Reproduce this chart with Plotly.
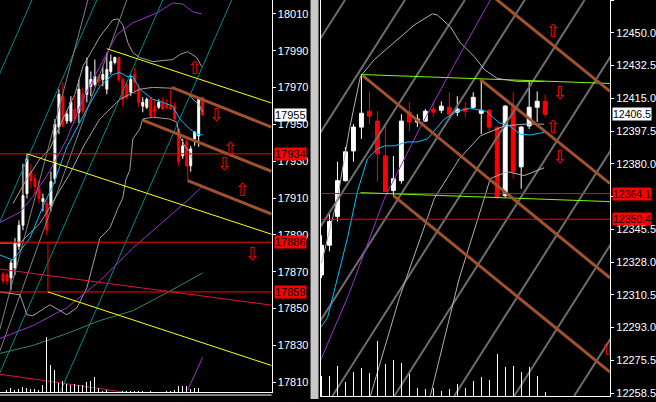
import plotly.graph_objects as go

# ---------------- LEFT PANEL DATA (bar index, price) ----------------
L_open  = [17868.8,17868.2,17866.6,17872.0,17883.8,17895.2,17912.4,17924.3,17920.5,17915.1,
           17908.1,17907.0,17905.9,17920.5,17948.5,17965.3,17951.8,17951.8,17958.3,17956.6,
           17966.3,17966.3,17970.7,17971.7,17976.0,17974.4,17969.1,17978.7,17983.6,17986.3,
           17974.4,17971.7,17967.4,17977.1,17969.1,17959.9,17959.3,17963.6,17959.9,17959.3,
           17962.0,17960.9,17959.9,17959.9,17947.5,17932.9,17940.5,17927.5,17942.1,17943.7,17964.7]
L_high  = [17869.8,17869.3,17876.3,17888.2,17897.9,17928.6,17934.0,17928.6,17923.2,17919.4,
           17912.4,17909.7,17924.3,17952.9,17969.1,17972.8,17957.2,17965.3,17965.3,17974.4,
           17970.1,17986.3,17978.7,17985.2,17977.1,17981.4,17989.0,17987.9,17986.8,17986.8,
           17975.5,17972.8,17977.1,17980.9,17971.7,17964.7,17964.7,17964.7,17963.6,17963.6,
           17964.7,17963.6,17969.1,17962.0,17947.5,17942.1,17943.2,17938.3,17946.4,17963.6,17964.7]
L_low   = [17863.4,17862.8,17860.1,17868.2,17881.7,17892.5,17909.7,17915.1,17912.4,17907.0,
           17902.7,17889.8,17902.7,17917.8,17944.8,17948.5,17950.1,17950.7,17950.7,17950.7,
           17955.6,17962.0,17965.3,17970.7,17970.7,17970.7,17966.3,17977.1,17982.5,17972.8,
           17959.9,17963.6,17965.3,17966.3,17959.3,17956.6,17958.3,17953.9,17953.9,17958.3,
           17958.3,17958.3,17958.3,17951.8,17927.5,17931.3,17927.0,17924.3,17938.3,17937.8,17955.0]
L_close = [17865.0,17865.0,17874.7,17885.5,17895.2,17911.3,17931.3,17919.4,17916.2,17909.7,
           17909.7,17892.5,17918.9,17950.1,17966.3,17949.1,17955.6,17962.0,17952.9,17969.1,
           17957.2,17981.4,17974.4,17976.0,17973.4,17977.1,17979.8,17984.1,17986.3,17974.4,
           17963.6,17964.7,17974.4,17972.8,17962.0,17962.0,17963.6,17954.5,17956.6,17962.0,
           17958.3,17959.3,17958.3,17952.9,17929.7,17938.3,17927.5,17936.7,17945.8,17963.6,17955.0]
L_volume = [3,2,4,2,3,5,4,3,3,2,7,55,27,22,9,11,8,7,8,7,7,10,11,15,4,1.5,1.7,0,0,0,
            1.3,0.7,0.7,0.7,0.7,0.7,0,0.7,0,0,0,0.7,1.3,2.3,6,6,6.3,3.3,4,4,0]

L_ma_fast_x = [-0.75,2.5,6.75,10,12.5,16,21,24.25,27.5,29.25,31,32.5,34.25,37.5,40,42.5,44.25,46.75,48.5,50]
L_ma_fast_y = [17879.0,17876.3,17888.2,17905.4,17916.7,17937.8,17958.3,17970.7,17977.1,17978.2,
               17976.0,17976.0,17969.1,17963.6,17962.0,17959.9,17952.9,17947.5,17944.8,17944.2]
L_ma_up_x = [-0.75,4.25,7.5,11.75,16,20,24.25,28.5,32.5,38.5,42.5,45,47.5,49.75]
L_ma_up_y = [17896.8,17902.2,17910.8,17924.8,17942.1,17963.6,17981.4,17998.7,18005.2,18010.5,
             18015.9,18015.4,18011.1,18010.0]
L_ma_slow_x = [-0.75,7.5,16,24.25,32.5,41,46.75,50]
L_ma_slow_y = [17833.7,17840.7,17850.4,17865.0,17882.8,17898.9,17909.7,17916.7]
L_ma_long_x = [-0.75,7.5,16,24.25,32.5,41,50]
L_ma_long_y = [17825.6,17829.9,17836.4,17843.4,17848.8,17858.5,17869.3]
L_vol_ma_x = [46.25,48.25,50]
L_vol_ma_y = [17805.7,17815.4,17823.5]
L_bb_up_x = [2.5,6,9.25,11.75,15,18,20,24.25,27.5,28.75,30,31.25,32.5,34.25,37.5,42.5,44.25,46.25,48.5,49.75]
L_bb_up_y = [17907.0,17920.5,17931.3,17936.7,17952.9,17966.3,17981.4,17997.6,18006.8,18007.3,
             18004.1,17994.4,17989.0,17986.3,17984.1,17985.2,17987.9,17989.5,17986.3,17981.4]
L_bb_mid_x = [-0.75,4.25,9.25,13,16.75,20.5,24.25,29.25,34.25,37.5,42.5,46,49.25,50]
L_bb_mid_y = [17885.5,17885.5,17896.2,17909.7,17923.2,17939.4,17952.9,17963.6,17969.1,17970.1,
              17969.6,17967.4,17959.9,17956.6]
L_bb_lo_x = [-0.75,4.25,6,7.5,11.75,16,18.5,21,24.25,26.75,28.75,30,30.75,31.75,32.5,34.25,
             35,37.5,41.75,43.5,44.25,45.5,46.75,47.25]
L_bb_lo_y = [17859.0,17857.4,17846.6,17846.1,17852.0,17846.6,17850.4,17861.2,17888.2,17893.6,
             17904.3,17910.0,17920.0,17925.0,17942.1,17947.5,17952.9,17953.9,17952.9,17951.2,
             17943.7,17938.3,17935.1,17931.3]

L_hlines = [17934, 17886, 17859]
L_yellow = [[6, 17934.0, 67.25, 17890.3], [26, 17991.1, 67.25, 17961.6], [11.25, 17859.0, 67.25, 17819.0]]
L_brown  = [[42.25, 17970.1, 67.25, 17948.5], [35, 17952.3, 67.25, 17924.5], [46.25, 17919.4, 67.25, 17901.3]]
L_crimson = [[-0.75, 17871.4, 67.25, 17851.8], [-0.75, 17814.3, 67.25, 17793.0]]
L_teal = [[-35.7, 17804.6, 7.25, 18017.55], [-19.4, 17804.6, 23.5, 18017.55],
          [-2.9, 17804.6, 40, 18017.55], [14.3, 17804.6, 57.25, 18017.55]]
L_gray = [[-5, 17804.6, 21.25, 18017.55], [-4.5, 17804.6, 31, 18017.55]]
L_vsegs = [[11.25, 17886, 17859], [46.25, 17929.7, 17919.4]]
L_arrows_x = [48, 53.5, 57, 55.5, 60, 62.5]
L_arrows_y = [17979.8, 17954.5, 17935.6, 17927.5, 17913.5, 17879.0]
L_arrows_t = ["⇧", "⇩", "⇧", "⇩", "⇧", "⇩"]
L_ticks = [17810, 17830, 17850, 17870, 17890, 17910, 17930, 17950, 17970, 17990, 18010]
L_labels = [(17955, "17955", "white"), (17934, "17934", "red"), (17886, "17886", "red"), (17859, "17859", "red")]

# ---------------- RIGHT PANEL DATA ----------------
R_open  = [12320.6,12336.5,12351.9,12371.0,12386.9,12399.6,12408.1,12402.8,12384.2,12365.7,
           12371.0,12407.6,12402.3,12402.8,12409.2,12408.6,12410.2,12407.6,12409.7,12410.2,
           12407.0,12408.6,12399.6,12363.0,12410.2,12378.4,12400.2,12410.2,12413.4]
R_high  = [12341.8,12353.5,12381.1,12389.0,12401.2,12427.7,12418.7,12408.1,12400.2,12384.2,
           12406.5,12412.9,12406.5,12409.2,12413.4,12413.4,12418.2,12416.1,12412.9,12418.2,
           12425.1,12409.2,12399.6,12411.3,12418.2,12400.2,12424.0,12418.7,12417.1]
R_low   = [12319.0,12333.3,12349.2,12370.5,12381.1,12393.3,12401.2,12370.5,12365.2,12363.0,
           12369.4,12397.5,12399.6,12402.3,12404.9,12407.0,12405.5,12405.5,12404.9,12409.2,
           12395.9,12397.5,12361.4,12362.0,12372.0,12366.7,12398.6,12402.3,12404.9]
R_close = [12336.5,12349.2,12371.0,12386.4,12399.6,12407.0,12405.5,12385.3,12365.2,12372.0,
           12402.8,12402.3,12403.9,12408.1,12407.6,12410.8,12406.5,12409.2,12408.1,12415.5,
           12408.6,12399.6,12362.5,12410.8,12375.8,12399.6,12410.2,12413.4,12406.5]
R_volume = [20,20,30,14,24,28,23,55,32,36,33,22,8,7,8,5,7,12,8,15,19,16,42,29,30,24,29,20,4]

R_cyan_x = [-0.125,0.75,3.25,4.5,5.75,7,7.875,9.125,10.75,12,13.25,14.125,15.375,17,18.625,
            20.625,21.75,22.25,23.25,24.125,24.875,26.125,28.125]
R_cyan_y = [12292.5,12297.8,12340.3,12365.2,12382.7,12388.0,12389.6,12389.6,12391.7,12391.7,
            12393.3,12397.5,12403.9,12408.1,12409.7,12408.1,12403.9,12401.8,12401.2,12398.6,
            12395.9,12395.4,12397.0]
R_purple_x = [-0.125,3.5,7.875,12.25,16.625,21.125,22.5]
R_purple_y = [12275.0,12311.1,12361.5,12398.6,12433.0,12467.5,12478.0]
R_bb_up_x = [0,2,3.5,4.875,6.625,9.125,11.625,13.875,14.5,16.125,17.375,19.125,20.375,22,24.5,27.875]
R_bb_up_y = [12327.0,12361.5,12398.6,12426.7,12435.7,12444.7,12454.2,12460.1,12459.5,12453.2,
             12444.7,12437.3,12430.4,12425.6,12424.0,12424.0]
R_bb_mid_x = [6.125,9.75,14.125,17.25,19.875,22.875,25.375,27.875]
R_bb_mid_y = [12256.0,12308.4,12361.5,12382.7,12394.9,12400.2,12401.2,12401.2]
R_bb_lo_x = [13.625,17.25,20.375,21.125,23.25,25.375,27.875]
R_bb_lo_y = [12256.0,12319.0,12361.5,12372.1,12375.8,12373.7,12377.9]

R_hlines = [12364.1, 12350.4]
R_green = [[5, 12427.7, 36.125, 12422.9], [4.875, 12364.6, 36.125, 12359.8]]
R_brown = [[20, 12474.4, 36.125, 12418.7], [5.125, 12427.2, 36.125, 12319.0],
           [19.875, 12425.1, 36.125, 12369.4], [9, 12363.0, 36.125, 12268.7]]
R_gann_start = [-28.625, -21.125, -13.625, -6.125, 1.375, 9.125, 16.625, 24.125, 31.625]
R_gann_end   = [2.94, 10.44, 17.94, 25.44, 32.94, 40.69, 48.19, 55.69, 63.19]
R_gann_lo, R_gann_hi = 12256.0, 12467.5
R_arrows_x = [29, 29.875, 29, 29.875, 35.875]
R_arrows_y = [12450.0, 12417.1, 12398.6, 12382.7, 12280.3]
R_arrows_t = ["⇧", "⇩", "⇧", "⇩", "⇧"]
R_ticks = [12257.5, 12275, 12292.5, 12310, 12327.5, 12345, 12362.5, 12380, 12397.5, 12415, 12432.5, 12450, 12467.5]
R_ticktext = ["12258.5", "12275.5", "12293.0", "12310.5", "12328.0", "12345.5", "",
              "12380.0", "12397.5", "12415.0", "12432.5", "12450.0", "12467.5"]
R_labels = [(12406.5, "12406.5", "white"), (12364.1, "12364.1", "red"), (12350.4, "12350.4", "red")]

W, H = 656, 402
fig = go.Figure()

def seg_lines(segs, xa, ya, color, width):
    xs, ys = [], []
    for x0, y0, x1, y1 in segs:
        xs += [x0, x1, None]
        ys += [y0, y1, None]
    fig.add_trace(go.Scatter(x=xs, y=ys, mode="lines", xaxis=xa, yaxis=ya,
                             line=dict(color=color, width=width), hoverinfo="skip"))

def curve(xv, yv, xa, ya, color, width=1):
    fig.add_trace(go.Scatter(x=xv, y=yv, mode="lines", xaxis=xa, yaxis=ya,
                             line=dict(color=color, width=width), hoverinfo="skip"))

# ---- left panel ----
Lx = list(range(len(L_open)))
fig.add_trace(go.Bar(x=Lx, y=L_volume, xaxis="x", yaxis="y3", width=0.25,
                     marker=dict(color="white", line=dict(width=0)), hoverinfo="skip"))
seg_lines(L_teal, "x", "y", "#008b8b", 1)
seg_lines(L_gray, "x", "y", "#808080", 1)
fig.add_trace(go.Candlestick(x=Lx, open=L_open, high=L_high, low=L_low, close=L_close,
                             xaxis="x", yaxis="y", whiskerwidth=0, hoverinfo="skip",
                             increasing=dict(line=dict(color="white", width=1), fillcolor="white"),
                             decreasing=dict(line=dict(color="red", width=1), fillcolor="red")))
curve(L_bb_up_x, L_bb_up_y, "x", "y", "#a0a0a0")
curve(L_bb_mid_x, L_bb_mid_y, "x", "y", "#a0a0a0")
curve(L_bb_lo_x, L_bb_lo_y, "x", "y", "#a0a0a0")
curve(L_ma_long_x, L_ma_long_y, "x", "y", "#2e8b57")
curve(L_ma_slow_x, L_ma_slow_y, "x", "y", "#9932cc")
curve(L_ma_up_x, L_ma_up_y, "x", "y", "#9932cc")
curve(L_vol_ma_x, L_vol_ma_y, "x", "y", "#9932cc")
curve(L_ma_fast_x, L_ma_fast_y, "x", "y", "#00bfff")
seg_lines(L_crimson, "x", "y", "#dc143c", 1)
seg_lines([[-0.75, v, 67.25, v] for v in L_hlines], "x", "y", "red", 1)
seg_lines([[s[0], s[1], s[0], s[2]] for s in L_vsegs], "x", "y", "red", 1)
seg_lines(L_yellow, "x", "y", "yellow", 1)
seg_lines(L_brown, "x", "y", "#a0522d", 3)
fig.add_trace(go.Scatter(x=L_arrows_x, y=L_arrows_y, text=L_arrows_t, mode="text", xaxis="x", yaxis="y",
                         textfont=dict(color="red", size=18, family="DejaVu Sans"), cliponaxis=True,
                         hoverinfo="skip"))

# ---- right panel ----
Rx = list(range(len(R_open)))
fig.add_trace(go.Bar(x=Rx, y=R_volume, xaxis="x2", yaxis="y4", width=0.125,
                     marker=dict(color="white", line=dict(width=0)), hoverinfo="skip"))
fig.add_trace(go.Candlestick(x=Rx, open=R_open, high=R_high, low=R_low, close=R_close,
                             xaxis="x2", yaxis="y2", whiskerwidth=0, hoverinfo="skip",
                             increasing=dict(line=dict(color="white", width=1), fillcolor="white"),
                             decreasing=dict(line=dict(color="red", width=1), fillcolor="red")))
seg_lines([[a, R_gann_lo, b, R_gann_hi] for a, b in zip(R_gann_start, R_gann_end)], "x2", "y2", "#6e6e6e", 2)
curve(R_bb_up_x, R_bb_up_y, "x2", "y2", "#b0b0b0")
curve(R_bb_mid_x, R_bb_mid_y, "x2", "y2", "#b0b0b0")
curve(R_bb_lo_x, R_bb_lo_y, "x2", "y2", "#b0b0b0")
curve(R_purple_x, R_purple_y, "x2", "y2", "#9932cc")
curve(R_cyan_x, R_cyan_y, "x2", "y2", "#00bfff")
seg_lines([[-0.125, v, 36.125, v] for v in R_hlines], "x2", "y2", "red", 1)
seg_lines(R_green, "x2", "y2", "#7cfc00", 1)
seg_lines(R_brown, "x2", "y2", "#a0522d", 3)
fig.add_trace(go.Scatter(x=R_arrows_x, y=R_arrows_y, text=R_arrows_t, mode="text", xaxis="x2", yaxis="y2",
                         textfont=dict(color="red", size=18, family="DejaVu Sans"), cliponaxis=True,
                         hoverinfo="skip"))

axis_common = dict(showgrid=False, zeroline=False, color="white", linecolor="white", linewidth=1)
fig.update_layout(
    width=W, height=H, margin=dict(l=0, r=0, t=0, b=0),
    paper_bgcolor="black", plot_bgcolor="black", showlegend=False,
    font=dict(family="Liberation Sans", size=11, color="white"),
    xaxis=dict(domain=[0, 272 / W], range=[-0.75, 67.25], showline=True, showticklabels=False,
               ticks="", rangeslider=dict(visible=False), anchor="y", **axis_common),
    yaxis=dict(domain=[7 / H, 1], range=[17804.6, 18017.55], side="right", anchor="x",
               showline=True, ticks="outside", ticklen=3, tickcolor="white",
               tickvals=L_ticks, ticktext=[str(v) for v in L_ticks], **axis_common),
    yaxis3=dict(domain=[7 / H, 1], range=[0, 395], overlaying="y", visible=False),
    xaxis2=dict(domain=[321 / W, 611 / W], range=[-0.125, 36.125], showline=True, showticklabels=False,
                ticks="", rangeslider=dict(visible=False), anchor="y2", **axis_common),
    yaxis2=dict(domain=[3 / H, 1], range=[12255.95, 12467.5], side="right", anchor="x2",
                showline=True, mirror=True, ticks="outside", ticklen=3, tickcolor="white",
                tickvals=R_ticks, ticktext=R_ticktext, **axis_common),
    yaxis4=dict(domain=[3 / H, 1], range=[0, 399], overlaying="y2", visible=False),
    bargap=0,
)

# window separator
fig.add_shape(type="rect", xref="paper", yref="paper", x0=311 / W, x1=319 / W, y0=0, y1=1,
              fillcolor="#c8c8c8", line=dict(width=0), layer="above")
fig.add_shape(type="line", xref="paper", yref="paper", x0=0, x1=272 / W, y0=4 / H, y1=4 / H,
              line=dict(color="white", width=1))

for v, t, c in L_labels:
    fig.add_annotation(x=274 / W, xref="paper", y=v, yref="y", text=t, showarrow=False,
                       xanchor="left", yanchor="middle", bgcolor=c, borderpad=0,
                       font=dict(color="black", size=11, family="Liberation Sans"))
for v, t, c in R_labels:
    fig.add_annotation(x=613 / W, xref="paper", y=v, yref="y2", text=t, showarrow=False,
                       xanchor="left", yanchor="middle", bgcolor=c, borderpad=0,
                       font=dict(color="black", size=10.5, family="Liberation Sans"))

fig.write_html("out.html", config={"displayModeBar": False, "staticPlot": True},
               post_script="document.body.style.margin='0';document.body.style.background='black';")
